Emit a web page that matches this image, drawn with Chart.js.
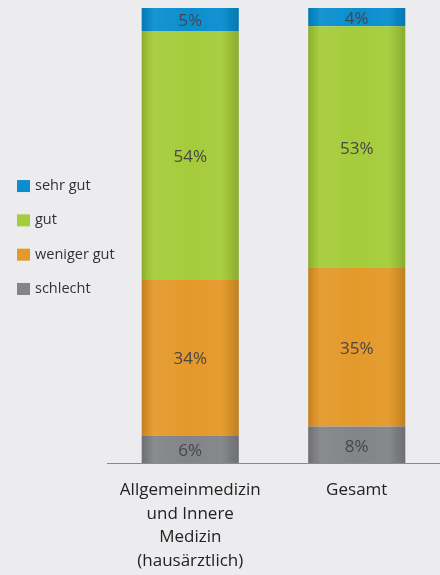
<!DOCTYPE html>
<html>
<head>
<meta charset="utf-8">
<script src="https://cdn.jsdelivr.net/npm/chart.js@4.4.1/dist/chart.umd.min.js"></script>
<style>
  html, body { margin: 0; padding: 0; background: #ececef; }
  #wrap { position: relative; width: 440px; height: 575px; }
</style>
</head>
<body>
<div id="wrap"><canvas id="c" width="440" height="575"></canvas></div>
<script>
// ---- data ----
const categories = [["Allgemeinmedizin", "und Innere", "Medizin", "(hausärztlich)"], "Gesamt"];
const seriesNames = ["schlecht", "weniger gut", "gut", "sehr gut"];
const schlecht = [6, 8];
const wenigerGut = [34, 35];
const gut = [54, 53];
const sehrGut = [5, 4];
const seriesColors = ["#838488", "#e4992a", "#a5cc3b", "#0a8ecf"];

const raw = [schlecht, wenigerGut, gut, sehrGut];
const totals = categories.map((_, j) => raw.reduce((s, arr) => s + arr[j], 0));

const datasets = raw.map((arr, i) => ({
  label: seriesNames[i],
  data: arr.map((v, j) => v / totals[j] * 100),
  rawValues: arr,
  backgroundColor: seriesColors[i],
  borderWidth: 0,
  categoryPercentage: 1,
  barPercentage: 0.583
}));

const FONT = "'Open Sans', 'DejaVu Sans', sans-serif";

// shading + value labels + legend
const barDecor = {
  id: 'barDecor',
  afterDatasetsDraw(chart) {
    const ctx = chart.ctx;
    const metas = chart.data.datasets.map((d, i) => chart.getDatasetMeta(i));
    categories.forEach((_, j) => {
      let top = Infinity, bottom = -Infinity, x = 0, w = 0;
      metas.forEach(m => {
        const el = m.data[j];
        top = Math.min(top, el.y, el.base);
        bottom = Math.max(bottom, el.y, el.base);
        x = el.x; w = el.width;
      });
      const left = x - w / 2;
      const g = ctx.createLinearGradient(left, 0, left + w, 0);
      g.addColorStop(0, 'rgba(0,0,0,0.16)');
      g.addColorStop(0.07, 'rgba(0,0,0,0.04)');
      g.addColorStop(0.12, 'rgba(255,255,255,0.06)');
      g.addColorStop(0.5, 'rgba(255,255,255,0.0)');
      g.addColorStop(0.82, 'rgba(255,255,255,0.04)');
      g.addColorStop(0.9, 'rgba(0,0,0,0.06)');
      g.addColorStop(1, 'rgba(0,0,0,0.16)');
      ctx.save();
      ctx.fillStyle = g;
      ctx.fillRect(left, top, w, bottom - top);
      ctx.restore();
    });
    ctx.save();
    ctx.font = "17px " + FONT;
    ctx.fillStyle = '#474747';
    ctx.textAlign = 'center';
    ctx.textBaseline = 'middle';
    metas.forEach((m, i) => {
      const ds = chart.data.datasets[i];
      m.data.forEach((el, j) => {
        ctx.fillText(ds.rawValues[j] + '%', el.x, (el.y + el.base) / 2 + 2);
      });
    });
    ctx.restore();
  },
  afterDraw(chart) {
    const ctx = chart.ctx;
    const ca = chart.chartArea;
    const mid = (ca.top + ca.bottom) / 2 + 2;
    const step = 34.3;
    const items = chart.data.datasets.map(d => ({ label: d.label, color: d.backgroundColor })).reverse();
    ctx.save();
    ctx.font = "14.5px " + FONT;
    ctx.textBaseline = 'middle';
    ctx.textAlign = 'left';
    items.forEach((it, k) => {
      const cy = mid + (k - (items.length - 1) / 2) * step;
      ctx.fillStyle = it.color;
      ctx.fillRect(17, cy - 6, 13, 12);
      ctx.fillStyle = '#333333';
      ctx.fillText(it.label, 35, cy);
    });
    ctx.restore();
  }
};

new Chart(document.getElementById('c'), {
  type: 'bar',
  data: { labels: categories, datasets },
  options: {
    responsive: false,
    animation: false,
    layout: { padding: { left: 107, right: 0, top: 8, bottom: 0 } },
    plugins: { legend: { display: false }, tooltip: { enabled: false } },
    scales: {
      x: {
        stacked: true,
        offset: true,
        grid: { display: false, drawTicks: false },
        border: { display: true, color: '#8a8a8a', width: 1 },
        afterFit(scale) { scale.height = 112; },
        ticks: {
          color: '#222222',
          font: { family: FONT, size: 17, lineHeight: 1.4 },
          padding: 15,
          maxRotation: 0,
          autoSkip: false
        }
      },
      y: {
        stacked: true,
        display: false,
        min: 0,
        max: 100
      }
    }
  },
  plugins: [barDecor]
});
</script>
</body>
</html>
